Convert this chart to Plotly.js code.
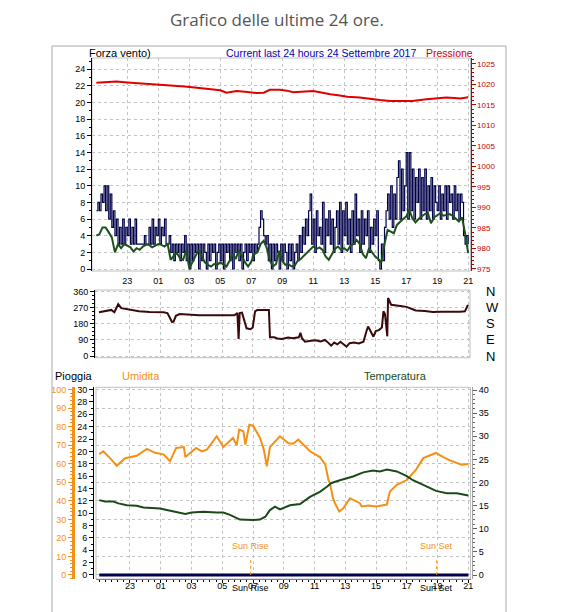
<!DOCTYPE html>
<html><head><meta charset="utf-8">
<script src="https://cdn.plot.ly/plotly-3.0.1.min.js"></script>
<style>html,body{margin:0;padding:0;background:#fff}#chart{width:574px;height:612px}</style>
</head><body><div id="chart"></div>
<script>
// ---------- DATA (hours since 21:00 of previous day) ----------
const tickHours  = [2,4,6,8,10,12,14,16,18,20,22,24];
const tickLabels = ['23','01','03','05','07','09','11','13','15','17','19','21'];

// wind gust (raffica), sampled every 0.1 h
const gustStep = 0.1;
const gustValues = [
 7,8,7,9,8,10,7,10,6,9,
 5,7,4,6,3,5,3,6,3,5,
 4,6,3,5,3,6,3,3,3,3,
 3,4,3,3,5,3,6,3,5,4,
 6,3,5,4,6,3,3,4,2,3,
 1,3,2,3,1,3,2,4,1,3,
 0,3,1,3,2,3,0,3,1,3,
 2,0,3,1,3,2,3,0,2,3,
 1,3,0,3,2,3,1,3,0,3,
 2,3,1,3,0,2,3,1,3,2,
 3,1,3,2,3,5,7,6,4,3,
 4,1,3,0,3,1,3,2,0,3,
 1,3,2,0,3,1,3,0,2,3,
 1,4,2,5,3,6,4,7,9,3,
 6,2,7,4,5,3,8,2,6,4,
 7,3,6,2,5,7,3,8,2,7,
 4,8,3,6,2,7,3,9,4,6,
 2,7,3,6,4,7,2,5,3,6,
 4,7,1,0,3,1,5,7,9,6,
 10,5,9,6,11,13,6,12,7,10,
 14,6,14,7,12,6,11,8,12,6,
 11,7,12,6,10,7,11,6,10,8,
 7,10,6,9,7,10,6,10,8,9,
 6,10,7,9,6,9,8,4,3,4,
 3
];

// average wind speed, sampled every 0.2 h
const avgStep = 0.2;
const avgValues = [
 4.0,4.2,5.0,5.0,4.4,3.8,2.0,3.0,2.5,3.0,
 2.8,2.6,2.1,2.5,2.3,2.7,2.9,2.9,2.6,2.8,
 3.0,2.9,2.7,3.0,1.1,1.6,1.9,1.3,1.1,2.2,
 0.1,0.8,1.5,2.3,1.6,0.8,0.5,0.3,0.6,0.5,
 0.8,0.6,0.3,1.0,1.8,1.2,2.3,1.5,0.8,0.3,
 0.9,1.8,2.0,3.0,3.4,2.5,1.0,0.3,0.6,2.2,
 1.0,0.5,0.6,0.3,0.4,1.0,1.2,1.6,2.0,2.3,
 2.7,2.4,2.6,2.3,1.5,1.1,1.8,2.4,2.7,2.3,
 2.5,2.2,2.8,3.0,3.5,3.0,1.8,1.3,2.5,2.0,
 1.5,1.2,0.8,3.0,4.7,4.5,4.3,5.3,5.7,6.0,
 6.3,7.1,6.1,5.6,6.0,6.3,6.6,6.7,5.5,6.2,
 6.5,6.7,6.4,6.5,6.6,6.4,6.1,5.7,6.2,4.3,
 1.9
];

// pressure (hPa)
const pressHours  = [0,0.7,1.3,2.0,2.8,3.6,4.3,4.9,5.7,6.5,7.5,8.0,8.4,8.8,9.05,9.6,10.35,10.8,11.2,11.85,12.3,12.7,13.3,14.0,14.6,15.1,15.6,16.2,17.0,17.7,18.3,18.95,19.6,20.4,21.3,22.0,22.6,23.1,23.5,24];
const pressValues = [1020.4,1020.6,1020.7,1020.5,1020.3,1020.1,1020.0,1019.7,1019.5,1019.2,1018.8,1018.6,1018.0,1018.2,1018.4,1018.2,1017.9,1018.0,1018.7,1018.7,1018.5,1018.1,1018.2,1018.4,1018.0,1017.6,1017.4,1017.0,1016.8,1016.4,1016.2,1016.0,1016.0,1016.0,1016.4,1016.6,1016.8,1016.7,1016.6,1016.9];

// wind direction (degrees)
const dirHours  = [0,0.4,0.8,1.0,1.15,1.25,1.45,2.0,2.6,3.3,4.2,4.45,4.65,4.75,4.85,5.0,5.25,6.5,8.8,9.0,9.08,9.15,9.3,9.5,9.6,9.85,10.0,10.15,10.3,11.0,11.05,11.12,11.4,11.6,11.9,12.3,12.6,13.0,13.1,13.2,13.4,13.8,14.1,14.4,14.7,14.9,15.1,15.3,15.5,15.7,16.0,16.1,16.3,16.6,16.9,17.2,17.4,17.5,17.6,17.75,17.85,18.0,18.2,18.4,18.5,18.6,18.7,18.75,18.8,18.9,19.0,19.6,20.0,20.4,20.6,21.2,21.7,22.3,23.0,23.5,23.8,24];
const dirValues = [245,252,258,245,268,290,268,258,250,247,245,240,205,190,192,225,235,228,228,240,95,240,243,175,155,150,160,250,258,258,258,105,105,98,95,103,100,105,130,100,80,85,88,82,90,75,58,75,65,80,60,52,72,75,70,80,140,165,150,120,108,140,145,160,250,235,170,110,325,300,287,280,275,262,255,252,246,248,246,248,250,286];
const dirTickVals = [0,90,180,270,360];
const dirTickText = ['N','E','S','W','N'];

// humidity (%)
const humHours  = [0,0.27,0.7,1.14,1.68,2.44,3.1,3.6,4.2,4.6,5.0,5.5,5.6,6.3,6.67,7.0,7.64,8.07,8.7,8.94,9.1,9.37,9.5,9.76,10.0,10.45,10.7,10.9,11.1,11.75,12.3,12.6,12.95,13.7,14.35,14.7,14.9,15.0,15.2,15.33,15.6,15.87,16.3,16.6,16.95,17.06,17.5,18.0,18.5,18.7,18.9,19.35,20.0,20.6,21.07,21.9,22.37,22.8,23.57,24];
const humValues = [65.2,66.7,63,58.9,63,64.3,68,66,64.9,61.3,68.5,69,63.6,68.5,66.7,67.6,74.8,69,73.9,70,78.4,77.5,70.3,81,80.5,74,67.6,58.6,69,74.8,71,70.8,73,66.7,63.6,59.5,51.4,49.5,41.4,38.7,34.2,36,41.4,40,38.7,37,37.5,37,38,38,45,48.6,51.2,56.8,63,65.8,63.6,61.8,59.5,59.9];

// temperature (°C)
const tempHours  = [0,0.38,0.92,1.25,1.8,2.44,2.87,3.95,4.4,5.25,5.6,6.0,6.77,7.64,8.07,8.5,9.15,10.0,10.45,10.8,11.1,11.43,11.75,12.4,13.06,13.7,14.35,14.8,15.1,15.65,16.5,17.17,17.8,18.25,18.7,19.35,20.0,20.4,21.3,21.9,22.6,23.25,24];
const tempValues = [16.2,15.9,15.9,15.5,15.1,15.0,14.6,14.4,14.05,13.5,13.2,13.5,13.7,13.5,13.5,13.0,12.0,11.9,12.0,12.6,14.05,14.8,14.2,15.1,15.35,16.9,18.0,19.1,19.9,20.5,21.3,22.2,22.6,22.4,22.8,22.4,21.4,20.5,19.1,18.2,17.7,17.7,17.2];

// rain (mm)
const rainHours  = [0,24];
const rainValues = [0,0];

// sun events (hours since 21:00)
const sunRiseHour = 9.85;
const sunSetHour  = 21.94;

// ---------- helpers ----------
const W = 574, H = 612;
const px = v => v / W;
const py = v => 1 - v / H;
const gustHours = gustValues.map((_, i) => +(i * gustStep).toFixed(2));
const avgHours  = avgValues.map((_, i) => +(i * avgStep).toFixed(2));

const FF = 'Liberation Sans, Arial, sans-serif';
const tickFont = {family: FF, size: 9, color: '#000'};
const gridCol = '#c4c4c4';

const traces = [
  {x: gustHours, y: gustValues, xaxis: 'x', yaxis: 'y', mode: 'lines', line: {color: '#00004a', width: 1.2, shape: 'hv'}, hoverinfo: 'skip'},
  {x: avgHours, y: avgValues, xaxis: 'x', yaxis: 'y', mode: 'lines', line: {color: '#1e501e', width: 2}, hoverinfo: 'skip'},
  {x: pressHours, y: pressValues, xaxis: 'x', yaxis: 'y2', mode: 'lines', line: {color: '#e00000', width: 2}, hoverinfo: 'skip'},
  {x: dirHours, y: dirValues, xaxis: 'x2', yaxis: 'y3', mode: 'lines', line: {color: '#3a0a0a', width: 2}, hoverinfo: 'skip'},
  {x: [0,24], y: [0,0], xaxis: 'x2', yaxis: 'y4', mode: 'lines', line: {color: 'rgba(0,0,0,0)', width: 0}, hoverinfo: 'skip'},
  {x: rainHours, y: rainValues, xaxis: 'x3', yaxis: 'y5', mode: 'lines', line: {color: '#000050', width: 3}, hoverinfo: 'skip'},
  {x: humHours, y: humValues, xaxis: 'x3', yaxis: 'y6', mode: 'lines', line: {color: '#f39018', width: 2}, hoverinfo: 'skip'},
  {x: tempHours, y: tempValues, xaxis: 'x3', yaxis: 'y7', mode: 'lines', line: {color: '#1a4a1a', width: 2}, hoverinfo: 'skip'}
];

const xCommon = {
  tickmode: 'array', tickvals: tickHours, ticktext: tickLabels,
  showgrid: true, gridcolor: gridCol, griddash: 'dot', gridwidth: 1,
  zeroline: false, showline: false, tickfont: tickFont, fixedrange: true
};

function ann(text, x, y, opts) {
  return Object.assign({text: text, xref: 'paper', yref: 'paper', x: x, y: y, showarrow: false,
    xanchor: 'left', yanchor: 'middle', font: {family: FF, size: 11, color: '#000'}}, opts || {});
}

const layout = {
  width: W, height: H,
  margin: {l: 0, r: 0, t: 0, b: 0},
  paper_bgcolor: '#fff', plot_bgcolor: '#fff',
  showlegend: false,
  font: {family: FF},
  xaxis: Object.assign({}, xCommon, {
    domain: [px(92), px(470.5)], anchor: 'y', range: [-0.28, 24.15],
    ticks: '', ticklabelstandoff: 3
  }),
  yaxis: {
    domain: [py(271), py(58)], anchor: 'x', range: [-0.24, 25.36],
    tickmode: 'linear', tick0: 0, dtick: 2, ticks: 'outside', ticklen: 4, tickcolor: '#000',
    minor: {tickmode: 'linear', tick0: 0, dtick: 1, ticks: 'outside', ticklen: 2, tickcolor: '#000', showgrid: false},
    showline: true, linecolor: '#000', linewidth: 1,
    showgrid: true, gridcolor: gridCol, griddash: 'dot', zeroline: false, tickfont: tickFont
  },
  yaxis2: {
    overlaying: 'y', side: 'right', anchor: 'x', range: [974.51, 1026.46],
    tickmode: 'linear', tick0: 975, dtick: 5, ticks: 'outside', ticklen: 4, tickcolor: '#c00000',
    minor: {tickmode: 'linear', tick0: 975, dtick: 1, ticks: 'outside', ticklen: 2, tickcolor: '#c00000', showgrid: false},
    showline: true, linecolor: '#c00000', linewidth: 1,
    showgrid: false, zeroline: false, tickfont: {family: FF, size: 8, color: '#c00000'}
  },
  xaxis2: Object.assign({}, xCommon, {
    domain: [px(95), px(470)], anchor: 'y3', range: [-0.26, 24.13],
    ticks: '', showticklabels: false
  }),
  yaxis3: {
    domain: [py(357.7), py(290)], anchor: 'x2', range: [-9.5, 369.5],
    tickmode: 'array', tickvals: dirTickVals, ticks: 'outside', ticklen: 4, tickcolor: '#000',
    minor: {tickmode: 'linear', tick0: 0, dtick: 22.5, ticks: 'outside', ticklen: 2, tickcolor: '#000', showgrid: false},
    showline: true, linecolor: '#000', linewidth: 1,
    showgrid: true, gridcolor: gridCol, griddash: 'dot', zeroline: false, tickfont: tickFont
  },
  yaxis4: {
    overlaying: 'y3', side: 'right', anchor: 'free', position: px(485), range: [-9.5, 369.5],
    tickmode: 'array', tickvals: dirTickVals, ticktext: dirTickText, ticks: '',
    showline: false, showgrid: false, zeroline: false,
    tickfont: {family: FF, size: 13, color: '#000'}
  },
  xaxis3: Object.assign({}, xCommon, {
    domain: [px(96), px(470.5)], anchor: 'y5', range: [-0.21, 24.14],
    ticks: 'outside', ticklen: 3, tickcolor: '#000', ticklabelstandoff: -5,
    minor: {tickmode: 'linear', tick0: 0, dtick: 0.4, ticks: 'outside', ticklen: 2, tickcolor: '#000', showgrid: false},
    showline: true, linecolor: '#808080', linewidth: 1
  }),
  yaxis5: {
    domain: [py(579), py(387.3)], anchor: 'free', position: px(93), range: [-0.65, 30.37],
    tickmode: 'linear', tick0: 0, dtick: 2, ticks: 'outside', ticklen: 4, tickcolor: '#000',
    minor: {tickmode: 'linear', tick0: 0, dtick: 1, ticks: 'outside', ticklen: 2, tickcolor: '#000', showgrid: false},
    showline: true, linecolor: '#000', linewidth: 1,
    showgrid: false, zeroline: false, tickfont: tickFont
  },
  yaxis6: {
    overlaying: 'y5', side: 'left', anchor: 'free', position: px(73), range: [-2.16, 101.2],
    tickmode: 'linear', tick0: 0, dtick: 10, ticks: 'outside', ticklen: 4, tickcolor: '#f39018',
    minor: {tickmode: 'linear', tick0: 0, dtick: 2, ticks: 'outside', ticklen: 2, tickcolor: '#f39018', showgrid: false},
    showline: true, linecolor: '#f39018', linewidth: 3,
    showgrid: true, gridcolor: gridCol, griddash: 'dot', zeroline: false,
    tickfont: {family: FF, size: 9, color: '#f39018'}
  },
  yaxis7: {
    overlaying: 'y5', side: 'right', anchor: 'free', position: px(472), range: [-0.86, 40.6],
    tickmode: 'linear', tick0: 0, dtick: 5, ticks: 'outside', ticklen: 4, tickcolor: '#606060',
    minor: {tickmode: 'linear', tick0: 0, dtick: 1, ticks: 'outside', ticklen: 2, tickcolor: '#606060', showgrid: false},
    showline: true, linecolor: '#a0a0a0', linewidth: 1,
    showgrid: false, zeroline: false, tickfont: tickFont
  },
  shapes: [
    // outer frame
    {type: 'line', xref: 'paper', yref: 'paper', x0: px(52), x1: px(52), y0: py(46), y1: py(612), line: {color: '#a8a8a8', width: 1}},
    {type: 'line', xref: 'paper', yref: 'paper', x0: px(52), x1: px(506), y0: py(46), y1: py(46), line: {color: '#a8a8a8', width: 1}},
    {type: 'line', xref: 'paper', yref: 'paper', x0: px(506), x1: px(506), y0: py(46), y1: py(612), line: {color: '#a8a8a8', width: 1}},
    // plot area borders
    {type: 'rect', xref: 'paper', yref: 'paper', x0: px(92), x1: px(470.5), y0: py(271), y1: py(58), line: {color: '#c0c0c0', width: 1}, layer: 'below'},
    {type: 'rect', xref: 'paper', yref: 'paper', x0: px(95), x1: px(470), y0: py(357.7), y1: py(290), line: {color: '#c0c0c0', width: 1}, layer: 'below'},
    {type: 'rect', xref: 'paper', yref: 'paper', x0: px(96), x1: px(470.5), y0: py(579), y1: py(387.3), line: {color: '#c0c0c0', width: 1}, layer: 'below'},
    // sun rise / set markers
    {type: 'line', xref: 'x3', yref: 'y5', x0: sunRiseHour, x1: sunRiseHour, y0: 0, y1: 2.4, line: {color: '#f39018', width: 1, dash: 'dot'}},
    {type: 'line', xref: 'x3', yref: 'y5', x0: sunSetHour, x1: sunSetHour, y0: 0, y1: 2.4, line: {color: '#f39018', width: 1, dash: 'dot'}}
  ],
  annotations: [
    ann('Grafico delle ultime 24 ore.', px(277), py(19), {xanchor: 'center', font: {family: 'Open Sans, sans-serif', size: 17, color: '#555'}}),
    ann('Forza vento)', px(87), py(53)),
    ann('Current last 24 hours 24 Settembre 2017', px(224), py(53), {font: {family: FF, size: 10.5, color: '#0000b4'}}),
    ann('Pressione', px(424), py(53), {font: {family: FF, size: 10.5, color: '#d00000'}}),
    ann('Pioggia', px(53), py(376)),
    ann('Umidita', px(120), py(376), {font: {family: FF, size: 11, color: '#f39018'}}),
    ann('Temperatura', px(395), py(376), {xanchor: 'center', font: {family: FF, size: 11, color: '#1a4a1a'}}),
    {text: 'Sun Rise', xref: 'x3', yref: 'paper', x: sunRiseHour, y: py(546), showarrow: false, xanchor: 'center', yanchor: 'middle',
     font: {family: FF, size: 9, color: '#f39018'}},
    {text: 'Sun Set', xref: 'x3', yref: 'paper', x: sunSetHour, y: py(546), showarrow: false, xanchor: 'center', yanchor: 'middle',
     font: {family: FF, size: 9, color: '#f39018'}},
    {text: 'Sun Rise', xref: 'x3', yref: 'paper', x: sunRiseHour, y: py(588), showarrow: false, xanchor: 'center', yanchor: 'middle',
     font: {family: FF, size: 9, color: '#000'}},
    {text: 'Sun Set', xref: 'x3', yref: 'paper', x: sunSetHour, y: py(588), showarrow: false, xanchor: 'center', yanchor: 'middle',
     font: {family: FF, size: 9, color: '#000'}}
  ]
};

Plotly.newPlot('chart', traces, layout, {staticPlot: true, displayModeBar: false});
</script></body></html>
